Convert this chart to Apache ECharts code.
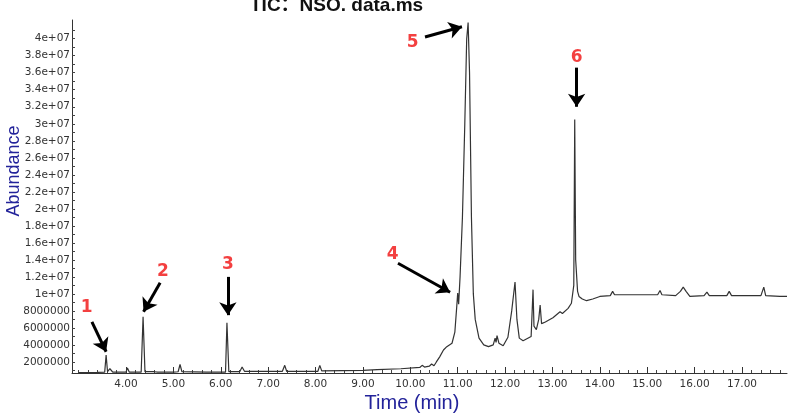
<!DOCTYPE html>
<html>
<head>
<meta charset="utf-8">
<script src="https://cdn.jsdelivr.net/npm/echarts@6/dist/echarts.min.js"></script>
<style>
  html, body { margin: 0; padding: 0; background: #fff; }
  #tic { width: 789px; height: 413px; }
</style>
</head>
<body>
<div id="tic"></div>
<script>
// retention time (min) and abundance
var times = [3.00, 3.40, 3.55, 3.58, 3.61, 3.66, 3.72, 4.00, 4.03, 4.07, 4.32, 4.36, 4.40, 4.60, 4.63, 4.67,
  4.94, 4.97, 5.00, 5.10, 5.14, 5.18, 5.70, 6.10, 6.13, 6.17, 6.40, 6.45, 6.50, 7.30, 7.35, 7.39,
  8.05, 8.09, 8.13, 9.00, 9.30, 9.80, 10.20, 10.25, 10.30, 10.40, 10.45, 10.50, 10.55, 10.62, 10.70,
  10.77, 10.88, 10.94, 10.98, 11.00, 11.02, 11.05, 11.10, 11.15, 11.19, 11.22, 11.25, 11.29, 11.33,
  11.37, 11.45, 11.55, 11.65, 11.75, 11.79, 11.81, 11.83, 11.87, 11.96, 12.06, 12.14, 12.21, 12.25,
  12.30, 12.38, 12.55, 12.59, 12.61, 12.66, 12.71, 12.74, 12.77, 12.85, 13.01, 13.16, 13.21, 13.33,
  13.40, 13.45, 13.47, 13.49, 13.53, 13.56, 13.63, 13.72, 13.85, 14.00, 14.22, 14.27, 14.31, 15.22,
  15.27, 15.31, 15.60, 15.70, 15.76, 15.82, 15.90, 16.20, 16.26, 16.31, 16.68, 16.73, 16.78, 17.40,
  17.46, 17.50, 17.80, 17.95];
var abundance = [0.75e6, 0.78e6, 0.8e6, 2.8e6, 0.85e6, 1.2e6, 0.8e6, 0.8e6, 1.3e6, 0.8e6, 0.8e6, 7.3e6, 0.85e6, 0.85e6, 1.0e6, 0.8e6,
  0.8e6, 0.95e6, 0.8e6, 0.85e6, 1.7e6, 0.85e6, 0.8e6, 0.8e6, 6.6e6, 0.85e6, 0.85e6, 1.4e6, 0.9e6, 0.9e6, 1.6e6, 0.9e6,
  0.9e6, 1.6e6, 0.95e6, 1.0e6, 1.1e6, 1.2e6, 1.35e6, 1.6e6, 1.4e6, 1.5e6, 1.75e6, 1.55e6, 2.0e6, 2.6e6, 3.4e6,
  3.8e6, 4.2e6, 5.5e6, 8.5e6, 10.1e6, 8.8e6, 12e6, 19e6, 30e6, 40e6, 41.9e6, 36e6, 19e6, 10e6,
  7.0e6, 4.8e6, 4.0e6, 3.8e6, 4.0e6, 4.8e6, 4.3e6, 5.1e6, 4.2e6, 3.9e6, 4.9e6, 8.0e6, 11.4e6, 7.0e6,
  4.8e6, 4.5e6, 5.0e6, 10.5e6, 6.2e6, 5.8e6, 7.0e6, 8.7e6, 6.5e6, 6.7e6, 7.2e6, 7.9e6, 7.7e6, 8.3e6,
  8.9e6, 11e6, 30.5e6, 14e6, 10.3e6, 9.7e6, 9.4e6, 9.2e6, 9.4e6, 9.7e6, 9.8e6, 10.3e6, 9.9e6, 9.9e6,
  10.4e6, 9.9e6, 9.8e6, 10.3e6, 10.8e6, 10.3e6, 9.7e6, 9.8e6, 10.2e6, 9.8e6, 9.8e6, 10.3e6, 9.8e6, 9.8e6,
  10.8e6, 9.8e6, 9.7e6, 9.7e6];

var xTickLabels = [4, 5, 6, 7, 8, 9, 10, 11, 12, 13, 14, 15, 16, 17];
var yTickLabels = [2e6, 4e6, 6e6, 8e6, 10e6, 12e6, 14e6, 16e6, 18e6, 20e6, 22e6, 24e6, 26e6, 28e6,
  30e6, 32e6, 34e6, 36e6, 38e6, 40e6];

// peak numbers, where they sit, and their arrows (from -> to)
var peakNames = ['1', '2', '3', '4', '5', '6'];
var peakLabelPos = [[3.17, 8.4e6], [4.78, 12.6e6], [6.15, 13.4e6], [9.63, 14.6e6], [10.05, 39.6e6], [13.51, 37.8e6]];
var arrowFrom = [[3.28, 6.7e6], [4.72, 11.3e6], [6.15, 12.0e6], [9.74, 13.6e6], [10.31, 40.2e6], [13.51, 36.6e6]];
var arrowTo = [[3.58, 3.2e6], [4.37, 7.9e6], [6.15, 7.5e6], [10.84, 10.2e6], [11.09, 41.4e6], [13.51, 32.0e6]];

var traceData = times.map(function (t, i) { return [t, abundance[i]]; });
var minorTicks = [];
for (var m = 3.0; m < 17.9; m += 0.2) minorTicks.push(Math.round(m * 10) / 10);
var yMinor = [];
for (var k = 1e6; k <= 41e6; k += 1e6) yMinor.push(k);

var chart = echarts.init(document.getElementById('tic'));
var axisFont = 'DejaVu Sans';
var option = {
  animation: false,
  grid: { left: 72, right: 2, top: 20, bottom: 40 },
  xAxis: [
    {
      type: 'value', min: 2.86, max: 17.95,
      axisLine: { show: true, lineStyle: { color: '#333', width: 1 } },
      axisTick: { show: true, inside: true, length: 3, customValues: minorTicks, lineStyle: { color: '#444' } },
      axisLabel: { show: false },
      splitLine: { show: false }
    },
    {
      type: 'value', min: 2.86, max: 17.95, position: 'bottom',
      axisLine: { show: false },
      axisTick: { show: true, inside: true, length: 6, customValues: xTickLabels, lineStyle: { color: '#333' } },
      axisLabel: {
        show: true, customValues: xTickLabels, margin: 6,
        color: '#333', fontFamily: axisFont, fontSize: 10.5,
        formatter: function (v) { return v.toFixed(2); }
      },
      splitLine: { show: false }
    }
  ],
  yAxis: {
    type: 'value', min: 0.7e6, max: 42.2e6,
    axisLine: { show: true, lineStyle: { color: '#333', width: 1 } },
    axisTick: { show: true, inside: true, length: 3, customValues: yMinor, lineStyle: { color: '#444' } },
    axisLabel: {
      show: true, customValues: yTickLabels, margin: 2,
      color: '#333', fontFamily: axisFont, fontSize: 10.5,
      formatter: function (v) {
        if (v >= 1e7) return parseFloat((v / 1e7).toFixed(1)) + 'e+07';
        return String(v);
      }
    },
    splitLine: { show: false }
  },
  series: [
    {
      name: 'TIC', type: 'line', xAxisIndex: 0, data: traceData,
      showSymbol: false, symbol: 'none',
      lineStyle: { color: '#333', width: 1.2 },
      emphasis: { disabled: true }
    },
    {
      name: 'peaks', type: 'scatter', xAxisIndex: 0,
      data: peakLabelPos.map(function (p, i) { return [p[0], p[1], peakNames[i]]; }),
      symbolSize: 0,
      label: {
        show: true, position: 'inside',
        formatter: function (p) { return p.value[2]; },
        color: '#f01010', fontFamily: axisFont, fontWeight: 'bold', fontSize: 17
      },
      markLine: {
        silent: true, symbol: ['none', 'arrow'], symbolSize: 13,
        lineStyle: { color: '#000', width: 3, type: 'solid' },
        label: { show: false },
        data: arrowFrom.map(function (a, i) {
          return [{ coord: a }, { coord: arrowTo[i] }];
        })
      }
    }
  ],
  graphic: [
    {
      type: 'text', left: 250, top: -4,
      style: { text: 'TIC：NSO. data.ms', font: 'bold 19px "Liberation Sans", "Noto Sans CJK SC"', fill: '#111' }
    },
    {
      type: 'text', x: 14, y: 171, rotation: Math.PI / 2,
      style: { text: 'Abundance', font: '18px "Liberation Sans"', fill: '#23239a', align: 'center', verticalAlign: 'middle' }
    },
    {
      type: 'text', x: 412, y: 403,
      style: { text: 'Time (min)', font: '20px "Liberation Sans"', fill: '#23239a', align: 'center', verticalAlign: 'middle' }
    }
  ]
};
chart.setOption(option);
</script>
</body>
</html>
